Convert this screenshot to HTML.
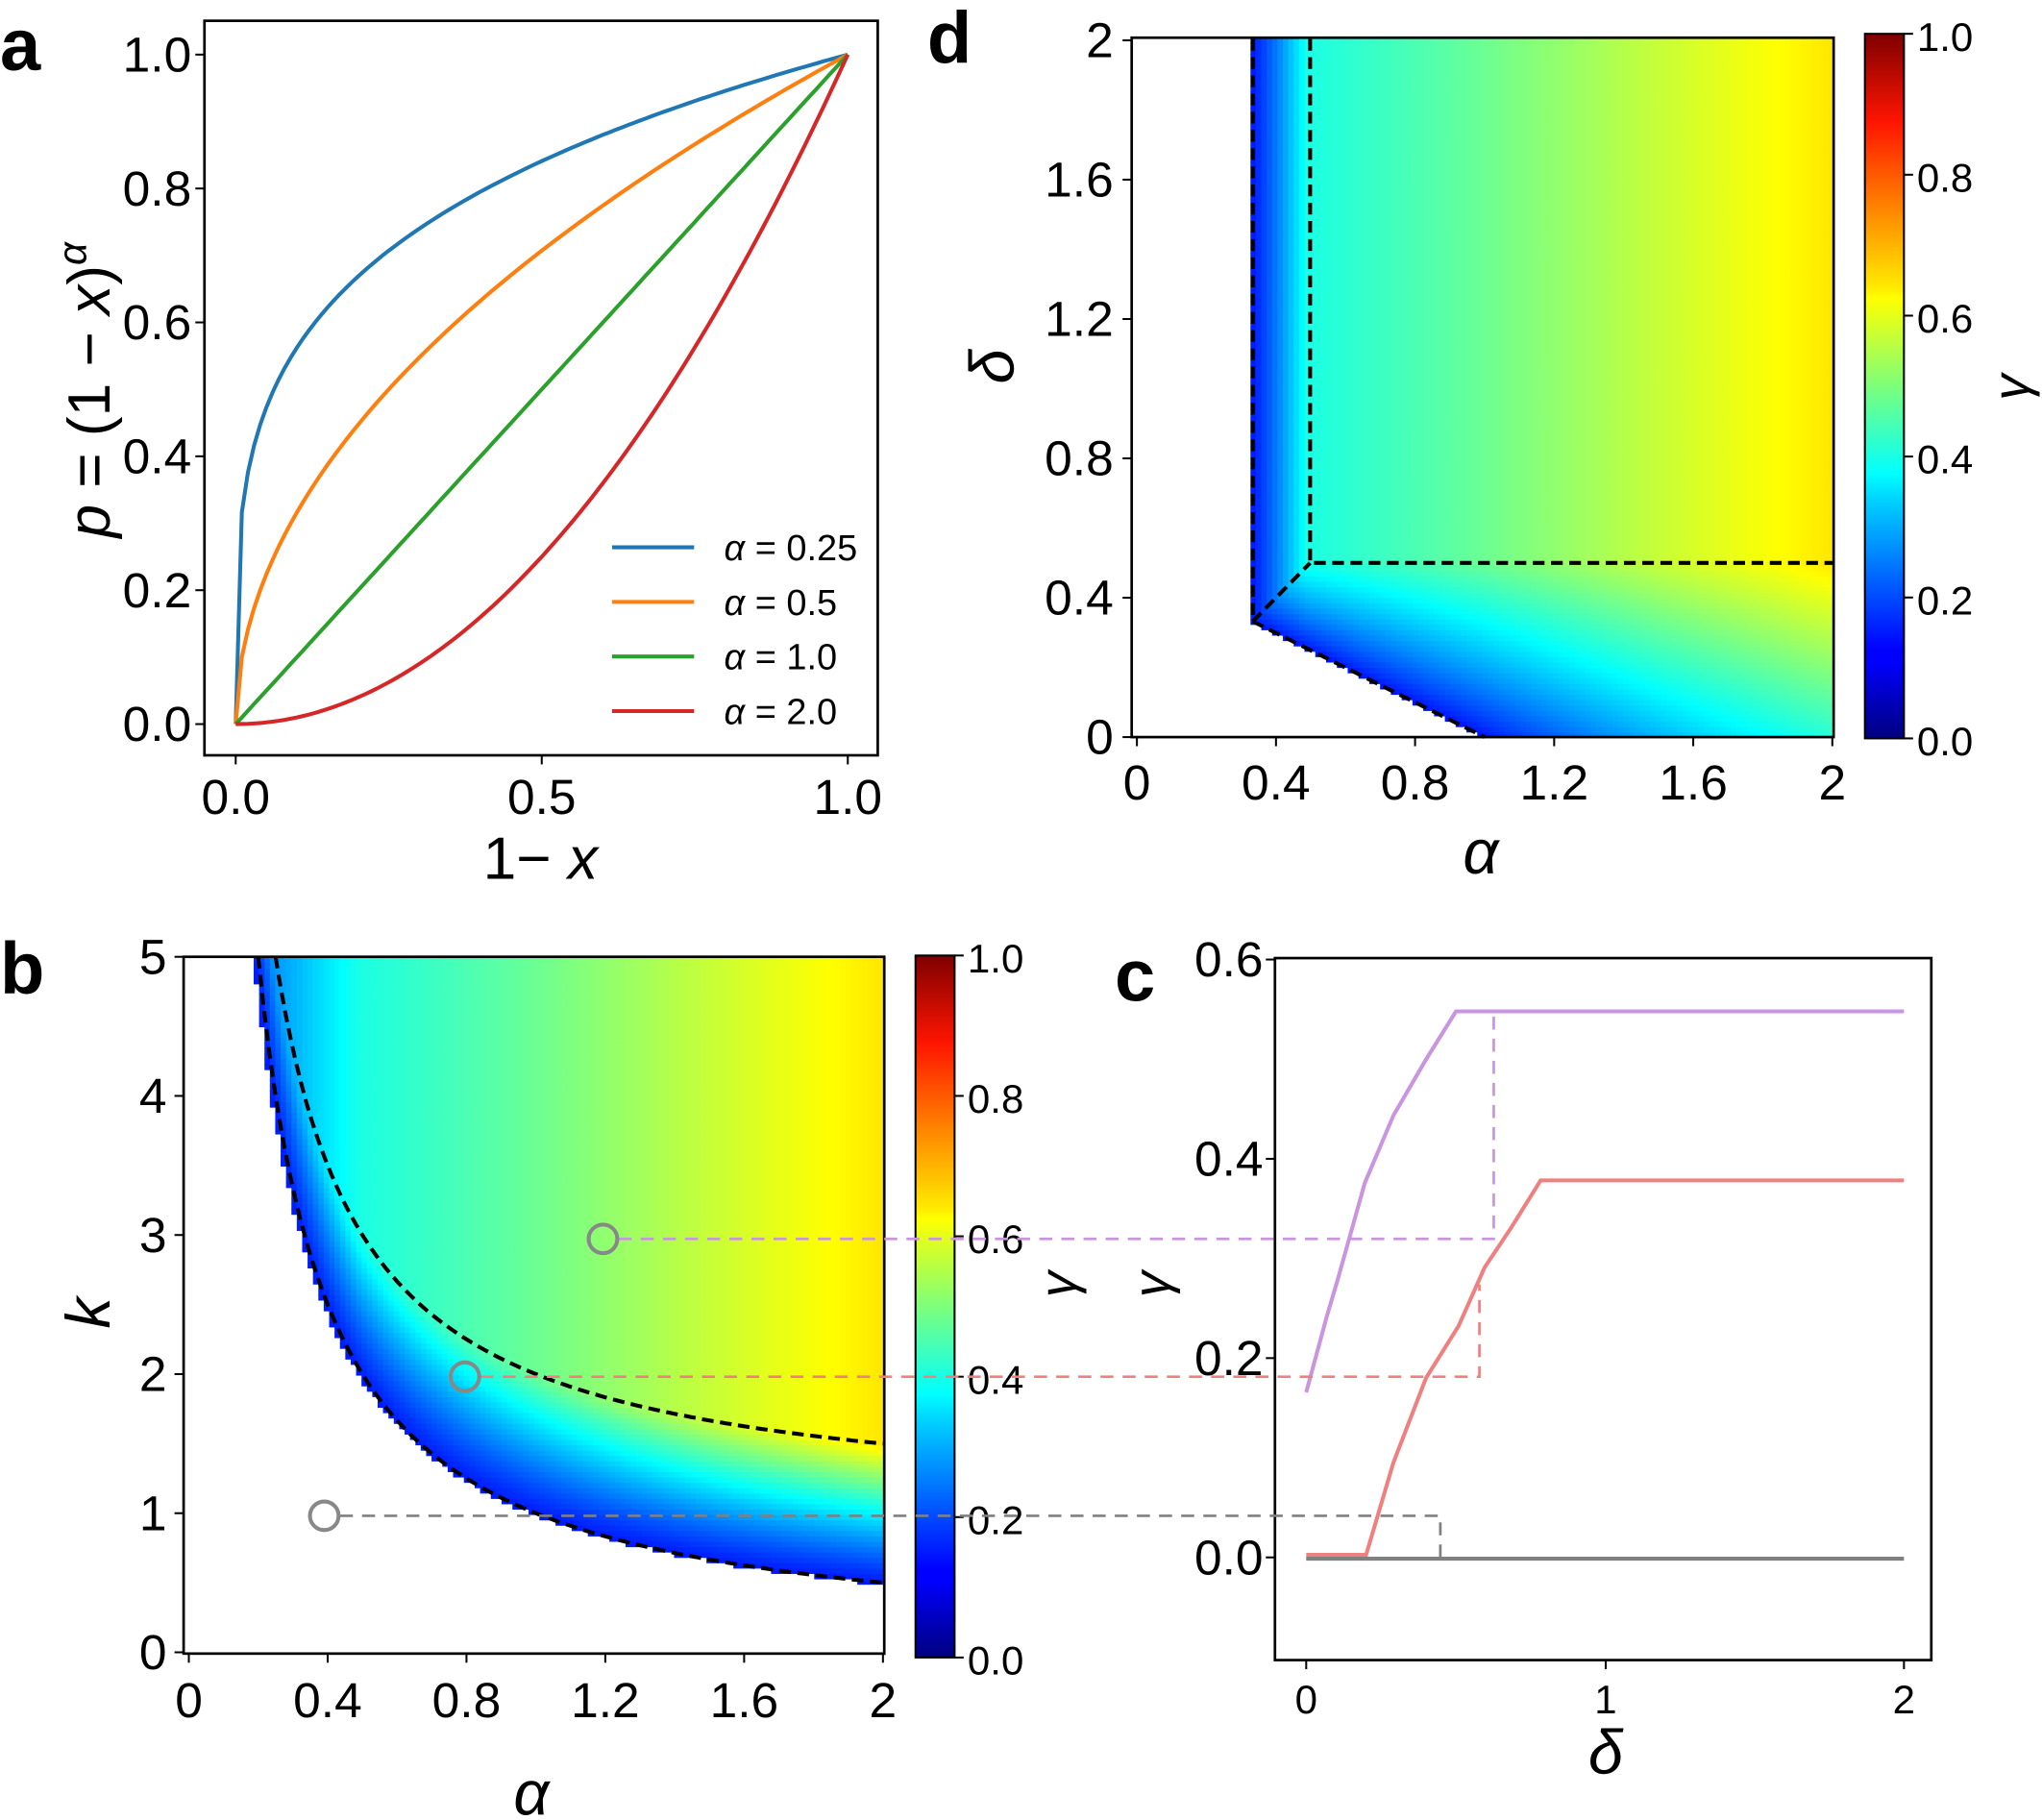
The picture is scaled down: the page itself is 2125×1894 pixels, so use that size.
<!DOCTYPE html>
<html><head><meta charset="utf-8">
<style>
html,body{margin:0;padding:0;background:#fff;}
svg{display:block;}
text{font-family:"Liberation Sans",sans-serif;fill:#000;}
.tk{font-size:38px;}
.cb{font-size:31px;}
.it{font-style:italic;}
</style></head>
<body>
<svg id="s" xmlns="http://www.w3.org/2000/svg" width="2125" height="1894" viewBox="0 0 1568 1400" preserveAspectRatio="none">
<defs>
<linearGradient id="jet" x1="0" y1="1" x2="0" y2="0">
<stop offset="0" stop-color="#00007f"/><stop offset="0.11" stop-color="#0000ff"/>
<stop offset="0.125" stop-color="#0000ff"/><stop offset="0.34" stop-color="#00d4ff"/>
<stop offset="0.375" stop-color="#00ffff"/><stop offset="0.5" stop-color="#7dff7a"/>
<stop offset="0.625" stop-color="#ffff00"/><stop offset="0.64" stop-color="#ffea00"/>
<stop offset="0.875" stop-color="#ff1500"/><stop offset="1" stop-color="#7f0000"/>
</linearGradient>
</defs>
<g id="heat"></g>
<g id="fg" fill="none" stroke="#000" stroke-width="2">
<rect x="157" y="16" width="517" height="565"/>
<rect x="869" y="29" width="539" height="538"/>
<rect x="1432" y="26" width="30" height="542" fill="url(#jet)" stroke-width="1.5"/>
<rect x="141" y="736" width="538" height="536"/>
<rect x="703" y="735" width="30" height="540" fill="url(#jet)" stroke-width="1.5"/>
<rect x="979" y="737" width="504" height="540"/>
</g>
<g id="ticks" stroke="#000" stroke-width="1.5"></g>
<g id="lbl"></g>
<g id="lines" fill="none"></g>
<text x="0" y="54" style="font-size:56px;font-weight:bold">a</text>
<text x="712" y="48" style="font-size:56px;font-weight:bold">d</text>
<text x="0" y="764" style="font-size:56px;font-weight:bold">b</text>
<text x="856" y="770" style="font-size:56px;font-weight:bold">c</text>
<text x="415" y="676" text-anchor="middle" style="font-size:46px">1− <tspan class="it">x</tspan></text>
<text transform="translate(84,300) rotate(-90)" text-anchor="middle" style="font-size:46px"><tspan class="it">p</tspan> = (1 − <tspan class="it">x</tspan>)<tspan class="it" dy="-18" style="font-size:31px">α</tspan></text>
<text x="1137" y="672" text-anchor="middle" class="it" style="font-size:48px">α</text>
<text transform="translate(778,282) rotate(-90)" text-anchor="middle" class="it" style="font-size:48px">δ</text>
<text transform="translate(1558,298) rotate(-90)" text-anchor="middle" class="it" style="font-size:40px">γ</text>
<text x="408" y="1396" text-anchor="middle" class="it" style="font-size:48px">α</text>
<text transform="translate(84,1010) rotate(-90)" text-anchor="middle" class="it" style="font-size:48px">k</text>
<text transform="translate(826,988) rotate(-90)" text-anchor="middle" class="it" style="font-size:40px">γ</text>
<text transform="translate(898,988) rotate(-90)" text-anchor="middle" class="it" style="font-size:40px">γ</text>
<text x="1233" y="1364" text-anchor="middle" class="it" style="font-size:48px">δ</text>
</svg>
<script>
var NS="http://www.w3.org/2000/svg";
function el(p,t,a,txt){var e=document.createElementNS(NS,t);for(var k in a)e.setAttribute(k,a[k]);if(txt!==undefined)e.textContent=txt;document.getElementById(p).appendChild(e);return e;}
function cl(v){return Math.max(0,Math.min(1,v));}
function jet(t){var r=cl(1.5-Math.abs(4*t-3)),g=cl(1.5-Math.abs(4*t-2)),b=cl(1.5-Math.abs(4*t-1));
return "rgb("+Math.round(r*255)+","+Math.round(g*255)+","+Math.round(b*255)+")";}
function G(a){var P=[[0.2,0.24],[0.5,0.40],[1,0.48],[1.5,0.57],[2,0.65]];
if(a<=P[0][0])return P[0][1];for(var i=1;i<P.length;i++){if(a<=P[i][0]){var f=(a-P[i-1][0])/(P[i][0]-P[i-1][0]);return P[i-1][1]+f*(P[i][1]-P[i-1][1]);}}return P[4][1];}
var N=130,M=130;
for(var i=0;i<N;i++){for(var j=0;j<M;j++){
 var a=(i+0.5)/N*2,k=(j+0.5)/M*5; if(k<1/a)continue;
 var g, t=(k-1/a);
 if(t>=1)g=G(a); else g=0.15+Math.pow(t,1.2)*(G(a)-0.15);
 var x=141+i/N*538,y=1272-(j+1)/M*536;
 el("heat","rect",{x:x.toFixed(2),y:y.toFixed(2),width:(538/N+0.6).toFixed(2),height:(536/M+0.6).toFixed(2),fill:jet(g)});
}}
for(var i=0;i<N;i++){for(var j=0;j<M;j++){
 var a=(i+0.5)/N*2,d=(j+0.5)/M*2; if(a<1/3)continue; var lb=(1-a)/2; if(d<lb)continue;
 var g1=a<0.5?0.14+Math.pow((a-1/3)/(1/6),1.2)*(G(0.5)-0.14):G(a);
 var g=g1;
 if(d<0.5){var tt=cl((d-lb)/(0.5-lb)); var g2=0.14+Math.pow(tt,0.9)*(G(a)-0.14); g=Math.min(g1,g2);}
 var x=869+i/N*539,y=567-(j+1)/M*538;
 el("heat","rect",{x:x.toFixed(2),y:y.toFixed(2),width:(539/N+0.6).toFixed(2),height:(538/M+0.6).toFixed(2),fill:jet(g)});
}}
function xt(x,y0,lab,cls,ly){el("ticks","line",{x1:x,y1:y0,x2:x,y2:y0+7});el("lbl","text",{x:x,y:ly,"text-anchor":"middle","class":cls},lab);}
function yt(x0,y,lab,cls,lx,right){el("ticks","line",{x1:x0,y1:y,x2:right?x0+7:x0-7,y2:y});el("lbl","text",{x:lx,y:y+13,"text-anchor":right?"start":"end","class":cls},lab);}
[[181,"0.0"],[416,"0.5"],[651,"1.0"]].forEach(function(p){xt(p[0],581,p[1],"tk",626);});
["0.0","0.2","0.4","0.6","0.8","1.0"].forEach(function(l,i){yt(157,557-i*103,l,"tk",147);});
["0","0.4","0.8","1.2","1.6","2"].forEach(function(l,i){xt(873+i*106.8,567,l,"tk",615);});
["0","0.4","0.8","1.2","1.6","2"].forEach(function(l,i){yt(869,567-i*107.2,l,"tk",855);});
["0.0","0.2","0.4","0.6","0.8","1.0"].forEach(function(l,i){yt(1462,568-i*108.4,l,"cb",1472,true);});
["0","0.4","0.8","1.2","1.6","2"].forEach(function(l,i){xt(145+i*106.6,1272,l,"tk",1321);});
["0","1","2","3","4","5"].forEach(function(l,i){yt(141,1271-i*107,l,"tk",128);});
["0.0","0.2","0.4","0.6","0.8","1.0"].forEach(function(l,i){yt(733,1275-i*108,l,"cb",743,true);});
[[1003,"0"],[1233,"1"],[1462,"2"]].forEach(function(p){xt(p[0],1277,p[1],"cb",1318);});
["0.0","0.2","0.4","0.6"].forEach(function(l,i){yt(979,1198-i*153.3,l,"tk",970);});
var cols=["#1f77b4","#ff7f0e","#2ca02c","#d62728"],al=[0.25,0.5,1,2];
al.forEach(function(A,n){var d="";for(var i=0;i<=100;i++){var t=i/100,p=Math.pow(t,A);d+=(i?"L":"M")+(181+470*t).toFixed(1)+","+(557-515*p).toFixed(1);}
el("lines","path",{d:d,stroke:cols[n],"stroke-width":3});
var ly=421+n*42;el("lines","line",{x1:470,y1:ly,x2:533,y2:ly,stroke:cols[n],"stroke-width":3});
el("lbl","text",{x:556,y:ly+10,style:"font-size:28px"},"");
var tx=document.getElementById("lbl").lastChild;tx.innerHTML='<tspan font-style="italic">α</tspan> = '+["0.25","0.5","1.0","2.0"][n];});
function bpath(f,a0){var d="";for(var i=0;i<=120;i++){var a=a0+(2-a0)*i/120,k=f(a);d+=(i?"L":"M")+(145+a*266.5).toFixed(1)+","+(1271-k*107).toFixed(1);}return d;}
el("lines","path",{d:bpath(function(a){return 1/a;},0.2),stroke:"#000","stroke-width":3,"stroke-dasharray":"9,5"});
el("lines","path",{d:bpath(function(a){return 1+1/a;},0.25),stroke:"#000","stroke-width":3,"stroke-dasharray":"9,5"});
var dd={stroke:"#000","stroke-width":3,"stroke-dasharray":"9,5"};
function pl(pts,at){var d="";pts.forEach(function(p,i){d+=(i?"L":"M")+p[0]+","+p[1];});var a={d:d};for(var k in at)a[k]=at[k];el("lines","path",a);}
pl([[962,30],[962,478],[1140,567]],dd);
pl([[1006,30],[1006,433],[1408,433]],dd);
pl([[962,478],[1006,433]],dd);
pl([[1003,1199],[1462,1199]],{stroke:"#808080","stroke-width":3});
pl([[1003,1196],[1049,1196],[1070,1125],[1095,1060],[1120,1020],[1140,975],[1160,945],[1183,908],[1462,908]],{stroke:"#f08080","stroke-width":3});
pl([[1003,1071],[1019,1012],[1027,985],[1048,910],[1070,858],[1095,815],[1118,778],[1462,778]],{stroke:"#c994e0","stroke-width":3});
var ds={"stroke-width":2,"stroke-dasharray":"10,7"};
function cn(pts,c){var a={stroke:c};for(var k in ds)a[k]=ds[k];pl(pts,a);}
cn([[475,953],[1147,953],[1147,778]],"#c994e0");
cn([[369,1059],[1136,1059],[1136,988]],"#f08080");
cn([[261,1166],[1106,1166],[1106,1199]],"#808080");
[[463,953],[357,1059],[249,1166]].forEach(function(p){el("lines","circle",{cx:p[0],cy:p[1],r:11,stroke:"#888","stroke-width":3,fill:"none"});});
</script>
</body></html>
